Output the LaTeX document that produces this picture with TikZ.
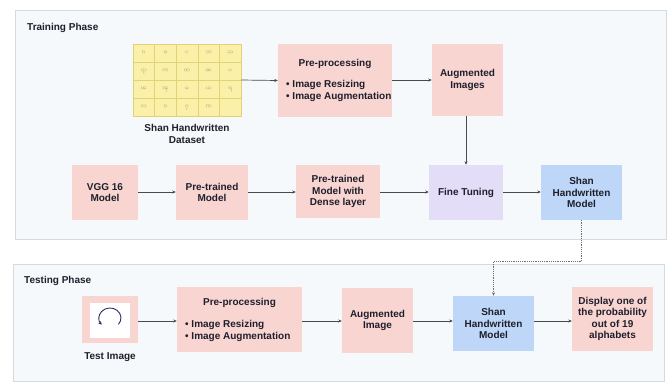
\documentclass[tikz,border=0pt]{standalone}
\usepackage{fontspec}
\setmainfont{Liberation Sans}
\newfontfamily\shanfont[Script=Myanmar]{Noto Sans Myanmar UI}
\usetikzlibrary{arrows.meta,calc}
\definecolor{pinkc}{HTML}{F9D5D2}
\definecolor{lavc}{HTML}{E3DDF8}
\definecolor{bluec}{HTML}{BED6F7}
\definecolor{framefill}{HTML}{F6F9FB}
\definecolor{frameline}{HTML}{D6DADD}
\definecolor{gridfill}{HTML}{FBF0A8}
\definecolor{gridline}{HTML}{E3D07C}
\definecolor{txt}{HTML}{1E1F2B}
\definecolor{arrc}{HTML}{4A4A4A}
\definecolor{glyph}{HTML}{B8A98A}
\definecolor{navy}{HTML}{2B3060}
\begin{document}
\begin{tikzpicture}[x=1bp,y=-1bp,
  every node/.style={text=txt,font=\bfseries\fontsize{10bp}{11.5bp}\selectfont},
  box/.style={fill=pinkc,draw=none,align=center,inner sep=0pt},
  lav/.style={box,fill=lavc},
  blu/.style={box,fill=bluec},
  frame/.style={fill=framefill,draw=frameline,line width=0.8bp},
  arr/.style={draw=arrc,line width=0.7bp,-{Stealth[length=3.5bp,width=3bp]}},
  dot/.style={draw=arrc!80,line width=0.7bp,dash pattern=on 1.2bp off 1bp,-{Stealth[length=3.5bp,width=3bp]}},
  lbl/.style={inner sep=0pt,align=center},
  glyphs/.style={text=glyph,font=\shanfont\fontsize{5.5bp}{6bp}\selectfont,inner sep=0pt}
]
\useasboundingbox (0,0) rectangle (669,381);
\fill[white] (0,0) rectangle (669,381);
% frames
\draw[frame] (15,10) rectangle (666,239);
\draw[frame] (13,264) rectangle (664,381.5);
\node[lbl,anchor=west] (ttitle) at (27,28) {Training Phase};
\node[lbl,anchor=west] (stitle) at (24,281) {Testing Phase};
% dataset grid
\node[fill=gridfill,draw=gridline,line width=0.6bp,minimum width=108bp,minimum height=72bp,inner sep=0pt] (grid) at (187,80) {};
\foreach \xx in {154.6,176.2,197.8,219.4} \draw[gridline,line width=0.6bp] (\xx,44) -- (\xx,116);
\foreach \yy in {62,80,98} \draw[gridline,line width=0.6bp] (133,\yy) -- (241,\yy);
\foreach \g [count=\i from 0] in {ၵ,ၶ,င,ၸ,သ,ၺ,တ,ထ,ၼ,ပ,ၽ,ၾ,မ,ယ,ရ,လ,ဝ,ႁ,ဢ}{
  \pgfmathtruncatemacro{\cc}{mod(\i,5)}
  \pgfmathtruncatemacro{\rr}{div(\i,5)}
  \node[glyphs] (g\i) at ({143.8+21.6*\cc},{53+18*\rr}) {\g};
}
\node[lbl] (dlabel) at (187,134) {Shan Handwritten\\Dataset};
% training row 1
\node[box,minimum width=114bp,minimum height=73bp] (pre1) at (335,80.5) {};
\node[lbl] (pre1t) at (335,64) {Pre-processing};
\node[lbl,align=left,anchor=west] (pre1b) at (286,91) {\textbullet{} Image Resizing\\\textbullet{} Image Augmentation};
\node[box,minimum width=71bp,minimum height=72bp] (aug1) at (467.5,80) {Augmented\\Images};
% training row 2
\node[box,minimum width=66bp,minimum height=55bp] (vgg) at (105,192.5) {VGG 16\\Model};
\node[box,minimum width=72bp,minimum height=55bp] (pt) at (212,192.5) {Pre-trained\\Model};
\node[box,minimum width=84bp,minimum height=53bp] (ptd) at (338,191.5) {Pre-trained\\Model with\\Dense layer};
\node[lav,minimum width=74bp,minimum height=55bp] (ft) at (466,192.5) {Fine Tuning};
\node[blu,minimum width=81bp,minimum height=55bp] (shan1) at (581.5,192.5) {Shan\\Handwritten\\Model};
% training arrows
\draw[arr] (grid.east) -- (pre1.west);
\draw[arr] (pre1.east |- 0,80) -- (aug1.west |- 0,80);
\draw[arr] (ft.north -| 466,0) ++(0,-49) -- (ft.north);
\draw[arr] (vgg.east |- 0,192) -- (pt.west |- 0,192);
\draw[arr] (pt.east |- 0,192) -- (ptd.west |- 0,192);
\draw[arr] (ptd.east |- 0,192) -- (ft.west |- 0,192);
\draw[arr] (ft.east |- 0,192) -- (shan1.west |- 0,192);
% testing row
\node[box,minimum width=56bp,minimum height=47bp] (timg) at (110,319.5) {};
\node[fill=white,minimum width=40bp,minimum height=35bp,inner sep=0pt] (timgw) at (110,320.5) {};
\draw[navy,line width=0.9bp,-{Stealth[length=3.5bp,width=3.5bp]}] (118.4,324.4) arc[start angle=-40,end angle=222,x radius=11bp,y radius=10bp];
\node[lbl] (tlabel) at (110,357) {Test Image};
\node[box,minimum width=125bp,minimum height=65bp] (pre2) at (239.5,319.5) {};
\node[lbl] (pre2t) at (239.5,303) {Pre-processing};
\node[lbl,align=left,anchor=west] (pre2b) at (185,331) {\textbullet{} Image Resizing\\\textbullet{} Image Augmentation};
\node[box,minimum width=71bp,minimum height=65bp] (aug2) at (377.5,320.5) {Augmented\\Image};
\node[blu,minimum width=81bp,minimum height=55bp] (shan2) at (493.5,323.5) {Shan\\Handwritten\\Model};
\node[box,minimum width=81bp,minimum height=64bp] (disp) at (612.5,319) {Display one of\\the probability\\out of 19\\alphabets};
% testing arrows
\draw[arr] (timg.east |- 0,321) -- (pre2.west |- 0,321);
\draw[arr] (pre2.east |- 0,321) -- (aug2.west |- 0,321);
\draw[arr] (aug2.east |- 0,321) -- (shan2.west |- 0,321);
\draw[arr] (shan2.east |- 0,321) -- (disp.west |- 0,321);
% dotted link
\coordinate (d1) at (581.5,261);
\coordinate (d2) at (493.5,261);
\draw[dot] (shan1.south) -- (d1) -- (d2) -- (shan2.north);
\end{tikzpicture}
\end{document}
